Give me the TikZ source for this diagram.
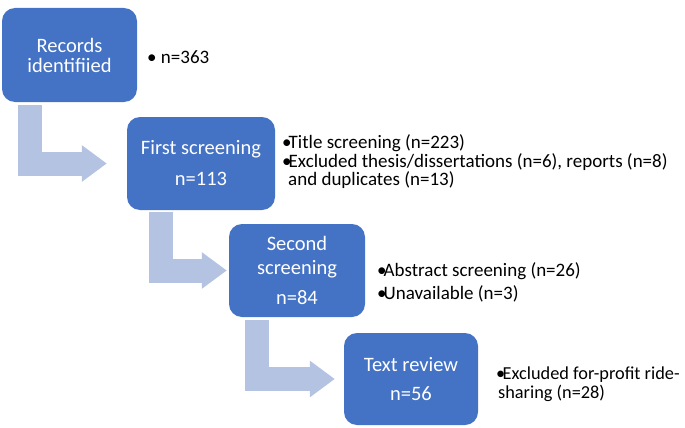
\documentclass[tikz,border=0pt]{standalone}
\usepackage{fontspec}
\setmainfont{Carlito}
\usetikzlibrary{arrows.meta}

\definecolor{boxblue}{HTML}{4472C4}
\definecolor{arrowgray}{HTML}{B4C3E2}

\newcommand{\bul}{\makebox[6.5pt][l]{\textbullet}}

\begin{document}
\begin{tikzpicture}[
  x=1pt, y=-1pt,
  font=\fontsize{19}{18.5}\selectfont,
  stage/.style={fill=boxblue, rounded corners=13pt, text=white, align=center,
                inner sep=0pt, font=\fontsize{20.5}{22}\selectfont},
  note/.style={anchor=west, align=left, inner sep=0pt},
  bentarr/.style={arrowgray, line width=24pt, -{Triangle[length=25pt, width=35pt]}},
]
\useasboundingbox (0,0) rectangle (685,428);

\node[stage, minimum width=135pt, minimum height=94pt] (rec)    at (69.5,55)  {Records\\[-2pt]identifiied};
\node[stage, minimum width=148pt, minimum height=93pt] (first)  at (201,163.5) {First screening\\[9pt]n=113};
\node[stage, minimum width=136pt, minimum height=93pt] (second) at (297,270.5) {Second\\[2pt]screening\\[8pt]n=84};
\node[stage, minimum width=134pt, minimum height=92pt] (review) at (411,379)   {Text review\\[7pt]n=56};

% bent arrows
\draw[bentarr] ([xshift=28pt, yshift=-3pt]rec.south west) |- ([xshift=-20pt]first.west);
\draw[bentarr] ([xshift=34pt, yshift=-2pt]first.south west) |- ([xshift=-2pt]second.west);
\draw[bentarr] ([xshift=28.5pt, yshift=-3pt]second.south west) |- ([xshift=-9pt]review.west);

% notes
\node[note] (n0) at (147,57)  {\textbullet\ n=363};
\node[note] (n1) at (282,162) {\bul Title screening (n=223)\\
  \bul Excluded thesis/dissertations (n=6), reports (n=8)\\
  \hspace*{6pt}and duplicates (n=13)};
\node[note] (n2) at (377,282) {\bul Abstract screening (n=26)\\[4.5pt]\bul Unavailable (n=3)};
\node[note, font=\fontsize{18.3}{19.5}\selectfont] (n3) at (496,384)
  {\bul Excluded for-profit ride-\\\hspace*{2pt}sharing (n=28)};

\end{tikzpicture}
\end{document}
